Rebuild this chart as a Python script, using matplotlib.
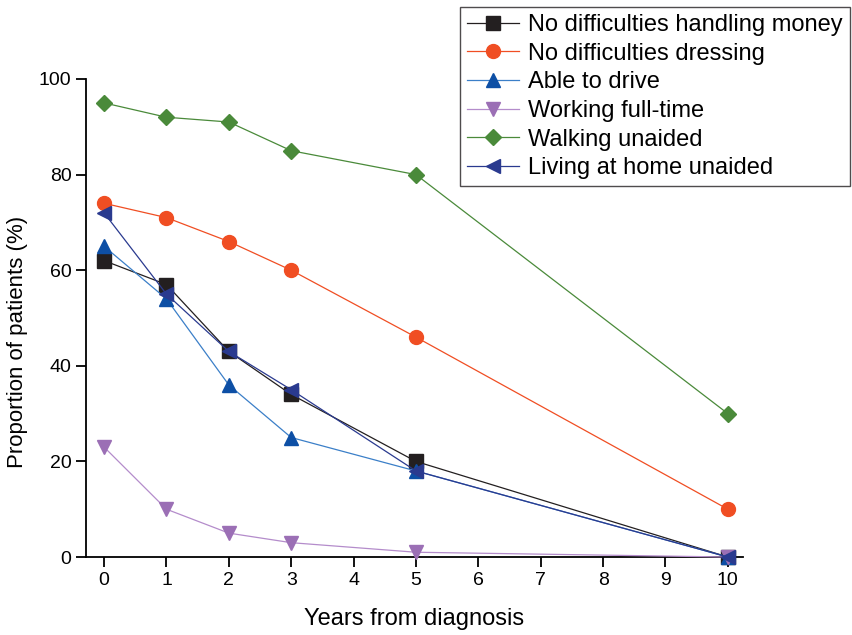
import matplotlib
matplotlib.use("Agg")
import matplotlib.pyplot as plt

plt.rcParams.update({
    "font.family": ["Liberation Sans", "DejaVu Sans"],
    "font.size": 14,
})

# Data
years = [0, 1, 2, 3, 5, 10]
money = [62, 57, 43, 34, 20, 0]
dressing = [74, 71, 66, 60, 46, 10]
drive = [65, 54, 36, 25, 18, 0]
working = [23, 10, 5, 3, 1, 0]
walking = [95, 92, 91, 85, 80, 30]
living = [72, 55, 43, 35, 18, 0]

series = [
    ("No difficulties handling money", money, "s", "#231f20", "#231f20"),
    ("No difficulties dressing", dressing, "o", "#f04e23", "#f04e23"),
    ("Able to drive", drive, "^", "#0d4fa5", "#3b7fc8"),
    ("Working full-time", working, "v", "#9b6fb5", "#b48ccb"),
    ("Walking unaided", walking, "D", "#4a8a3a", "#4a8a3a"),
    ("Living at home unaided", living, "<", "#2a3a8f", "#2a3a8f"),
]

fig = plt.figure(figsize=(8.53, 6.35), dpi=100)
ax = fig.add_axes([0.1008, 0.1228, 0.77, 0.7528])

for label, vals, mk, mcol, lcol in series:
    ms = 8 if mk == "D" else 10
    ax.plot(years, vals, color=lcol, lw=0.9, marker=mk, ms=ms,
            markerfacecolor=mcol, markeredgecolor=mcol, label=label,
            clip_on=False, zorder=3)

ax.set_xlim(-0.29, 10.24)
ax.set_ylim(0, 100)
ax.set_xticks(range(0, 11))
ax.set_yticks(range(0, 101, 20))
for side in ["top", "right"]:
    ax.spines[side].set_visible(False)
ax.spines["left"].set_linewidth(1.3)
ax.spines["bottom"].set_linewidth(1.3)
ax.tick_params(direction="out", length=7, width=1.3, labelsize=14)
ax.set_xlabel("Years from diagnosis", fontsize=17, labelpad=14)
ax.set_ylabel("Proportion of patients (%)", fontsize=16)
ax.yaxis.set_label_coords(-0.088, 0.45)

leg = fig.legend(loc="upper right", bbox_to_anchor=(0.9965, 0.989),
                 borderaxespad=0, fontsize=17, frameon=True, fancybox=False,
                 edgecolor="#231f20", labelspacing=0.28, handlelength=2.2,
                 handletextpad=0.4, borderpad=0.3)
leg.get_frame().set_linewidth(1.0)

fig.savefig("out.png", dpi=100)
